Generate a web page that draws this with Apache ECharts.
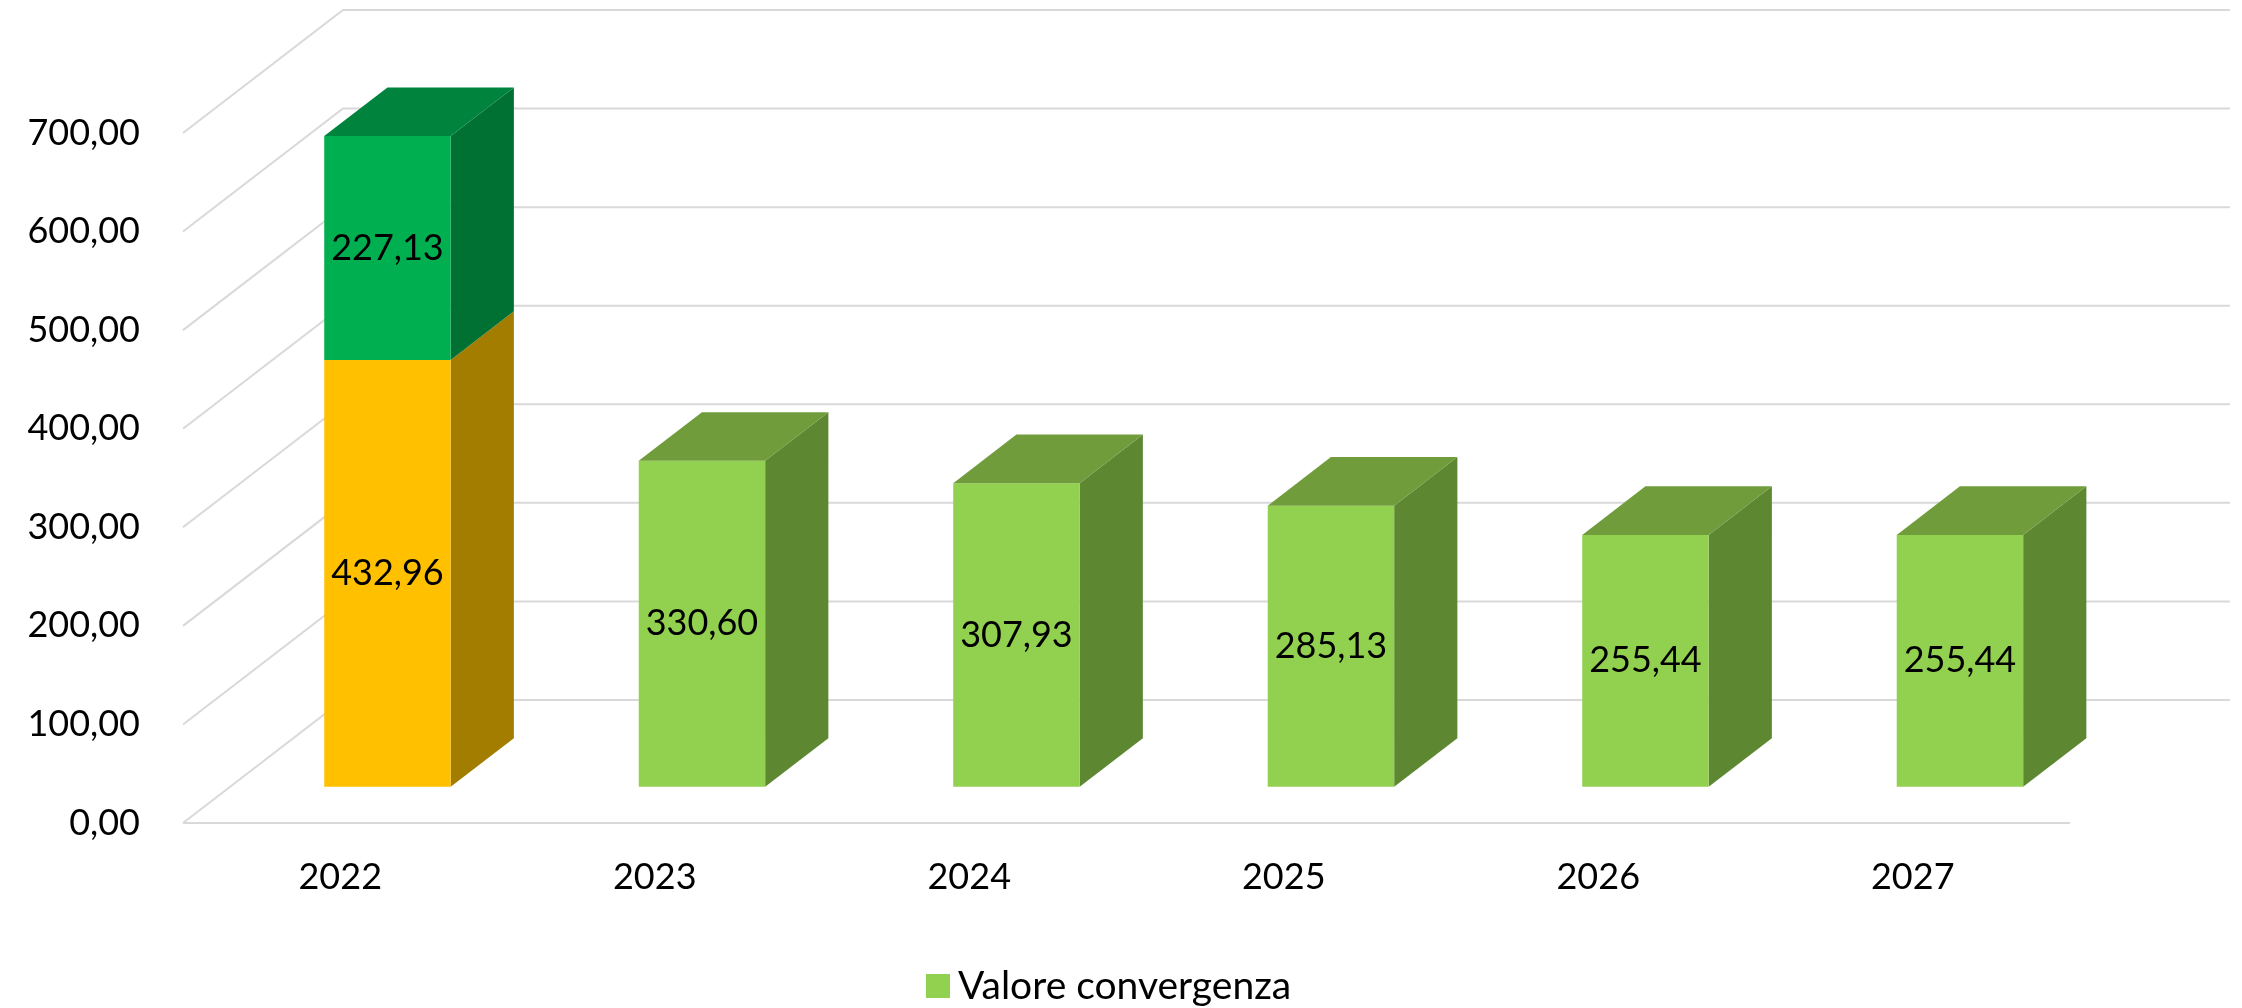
<!DOCTYPE html>
<html><head><meta charset="utf-8">
<script src="https://cdn.jsdelivr.net/npm/echarts@6/dist/echarts.min.js"></script>
<style>html,body{margin:0;padding:0;background:#fff;}#c{width:2242px;height:1008px;}</style>
</head><body><div id="c"></div>
<script>
// ---- data ----
const categories = ['2022', '2023', '2024', '2025', '2026', '2027'];
const baseValues = [432.96, null, null, null, null, null];        // yellow segment (2022)
const extraValues = [227.13, null, null, null, null, null];       // dark green segment on top (2022)
const convergenceValues = [null, 330.60, 307.93, 285.13, 255.44, 255.44];
const yTicks = [0, 100, 200, 300, 400, 500, 600, 700];
const legendName = 'Valore convergenza';

// ---- style / 3D projection constants ----
const DEPTH_DX = 160, DEPTH_DY = -123;   // full floor depth in pixels
const BAR_D0 = 0.295, BAR_D1 = 0.69;     // bar front/back as fraction of depth
const BAR_W = 0.402;                     // bar width as fraction of category
const FONT = 'Lato';
const GRID_COLOR = '#D9D9D9';

function fmt(v) { return v.toFixed(2).replace('.', ','); }

function barRenderer(colors) {
  return function (params, api) {
    const ci = api.value(0), lo = api.value(1), hi = api.value(2), val = api.value(3), top = api.value(4);
    const pLo = api.coord([ci, lo]), pHi = api.coord([ci, hi]);
    const bw = api.size([1, 0])[0] * BAR_W;
    const ox = BAR_D0 * DEPTH_DX, oy = BAR_D0 * DEPTH_DY;
    const ddx = (BAR_D1 - BAR_D0) * DEPTH_DX, ddy = (BAR_D1 - BAR_D0) * DEPTH_DY;
    const x0 = pLo[0] + ox - bw / 2, x1 = x0 + bw;
    const yL = pLo[1] + oy, yH = pHi[1] + oy;
    const children = [
      { type: 'polygon', shape: { points: [[x1, yH], [x1 + ddx, yH + ddy], [x1 + ddx, yL + ddy], [x1, yL]] }, style: { fill: colors.side } },
      { type: 'rect', shape: { x: x0, y: yH, width: bw, height: yL - yH }, style: { fill: colors.front } }
    ];
    if (top) {
      children.push({ type: 'polygon', shape: { points: [[x0, yH], [x0 + ddx, yH + ddy], [x1 + ddx, yH + ddy], [x1, yH]] }, style: { fill: colors.top } });
    }
    children.push({ type: 'text', style: { text: fmt(val), x: (x0 + x1) / 2, y: (yL + yH) / 2, align: 'center', verticalAlign: 'middle', fontSize: 36, fontFamily: FONT, fill: '#000' } });
    return { type: 'group', children: children };
  };
}

function gridRenderer(params, api) {
  const cs = params.coordSys;
  const v = api.value(1);
  const y = api.coord([0, v])[1];
  const xl = cs.x, xr = cs.x + cs.width;
  const children = [
    { type: 'polyline', shape: { points: [[xl, y], [xl + DEPTH_DX, y + DEPTH_DY], [xr + DEPTH_DX, y + DEPTH_DY]] }, style: { stroke: GRID_COLOR, lineWidth: 2, fill: null } }
  ];
  if (v === 0) {
    children.push({ type: 'line', shape: { x1: xl, y1: y, x2: xr, y2: y }, style: { stroke: GRID_COLOR, lineWidth: 2 } });
  }
  return { type: 'group', children: children };
}

const yellowData = [], greenData = [], convData = [];
categories.forEach(function (c, i) {
  if (baseValues[i] != null) {
    const hasExtra = extraValues[i] != null;
    yellowData.push([i, 0, baseValues[i], baseValues[i], hasExtra ? 0 : 1]);
    if (hasExtra) greenData.push([i, baseValues[i], baseValues[i] + extraValues[i], extraValues[i], 1]);
  }
  if (convergenceValues[i] != null) convData.push([i, 0, convergenceValues[i], convergenceValues[i], 1]);
});

const chart = echarts.init(document.getElementById('c'), null, { renderer: 'canvas' });
chart.setOption({
  backgroundColor: '#ffffff',
  animation: false,
  grid: { left: 183, right: 172, top: 133, bottom: 185 },
  xAxis: {
    type: 'category', data: categories, boundaryGap: true,
    axisLine: { show: false }, axisTick: { show: false }, splitLine: { show: false },
    axisLabel: { fontSize: 36, fontFamily: FONT, color: '#000', margin: 36 }
  },
  yAxis: {
    type: 'value', min: 0, max: 700, interval: 100,
    axisLine: { show: false }, axisTick: { show: false }, splitLine: { show: false },
    axisLabel: { fontSize: 36, fontFamily: FONT, color: '#000', margin: 43, formatter: function (v) { return fmt(v); } }
  },
  legend: {
    data: [legendName], left: 921, top: 961, icon: 'rect', itemWidth: 24, itemHeight: 24,
    textStyle: { fontSize: 39, fontFamily: FONT, color: '#000', lineHeight: 40, padding: [0, 0, 0, 3] },
    selectedMode: false
  },
  series: [
    { type: 'custom', name: 'grid', silent: true, z: 1, clip: false, renderItem: gridRenderer,
      data: yTicks.map(function (t) { return [0, t]; }), encode: { x: 0, y: 1 } },
    { type: 'custom', name: 'Base 2022', silent: true, z: 2, clip: false, itemStyle: { color: '#FFC000' },
      renderItem: barRenderer({ front: '#FFC000', side: '#A37D00', top: '#C89800' }),
      data: yellowData, encode: { x: 0, y: [1, 2] } },
    { type: 'custom', name: 'Extra 2022', silent: true, z: 3, clip: false, itemStyle: { color: '#00B050' },
      renderItem: barRenderer({ front: '#00B050', side: '#007033', top: '#00843D' }),
      data: greenData, encode: { x: 0, y: [1, 2] } },
    { type: 'custom', name: legendName, silent: true, z: 3, clip: false, itemStyle: { color: '#92D050' },
      renderItem: barRenderer({ front: '#92D050', side: '#5E8732', top: '#709C3C' }),
      data: convData, encode: { x: 0, y: [1, 2] } }
  ]
});
</script>
</body></html>
